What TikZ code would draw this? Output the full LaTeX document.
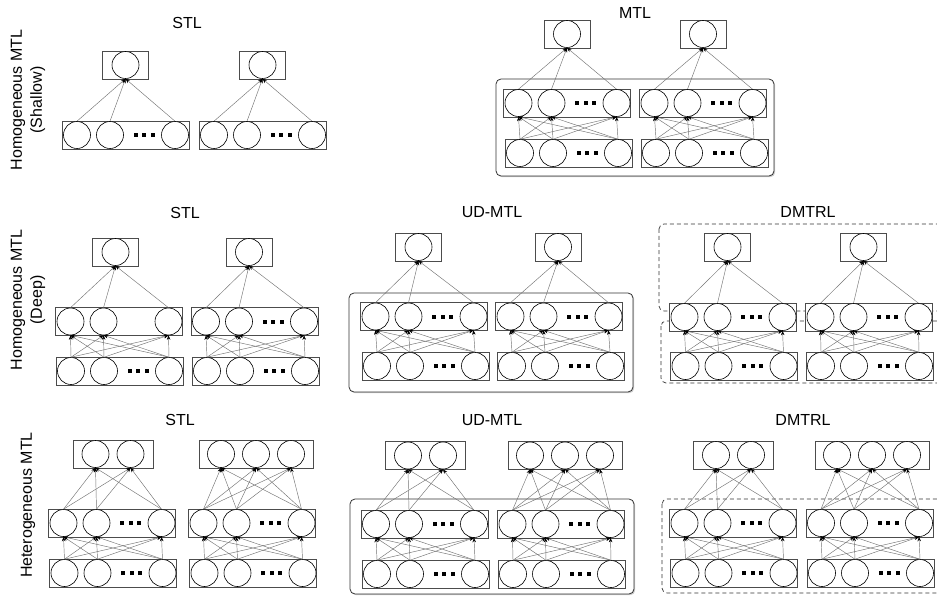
\documentclass[tikz,border=0pt]{standalone}
\usepackage{fontspec}
\setmainfont{Liberation Sans}
\usetikzlibrary{arrows.meta,calc,shadows}

% three square dots for the skipped units
\newcommand{\dotrow}{\rule{4pt}{4pt}\hspace{4.5pt}\rule{4pt}{4pt}\hspace{4.5pt}\rule{4pt}{4pt}}
% layer box with three units: name, x, y, dots (1/0)
\newcommand{\layer}[4]{%
  \node[lbox] (#1) at (#2,#3) {};
  \foreach \k/\dx in {1/-48.5,2/-15.5,3/49.5}
    \node[unit] (#1-\k) at ([xshift=\dx pt]#1.center) {};
  \ifnum#4=1 \node[dots] (#1-d) at ([xshift=18.5pt]#1.center) {\dotrow};\fi
}
% output box: name, x, y, number of units
\newcommand{\outbox}[4]{%
  \node[obox, minimum width={34*#4+12}] (#1) at (#2,#3) {};
  \foreach \k in {1,...,#4}
    \node[unit] (#1-\k) at ([xshift={(\k-(#4+1)/2)*35}]#1.center) {};
}
% full links: lower layer, upper layer, units above
\newcommand{\connect}[3]{%
  \foreach \i in {1,2,3} \foreach \j in {1,...,#3}
    \draw[link] (#1-\i.north) -- (#2-\j.south);
}

\begin{document}
\begin{tikzpicture}[
    x=1pt, y=-1pt,
    unit/.style={circle, draw=black, fill=white, minimum size=27pt, inner sep=0pt, line width=0.6pt},
    lbox/.style={rectangle, draw=black!70, fill=white, minimum width=127pt, minimum height=28pt, inner sep=0pt, line width=0.8pt},
    obox/.style={lbox, minimum width=46pt},
    dots/.style={inner sep=0pt},
    link/.style={draw=black!55, line width=0.45pt, -{Stealth[length=4.5pt, width=3.5pt, color=black]}},
    shared/.style={draw=black!80, fill=white, rounded corners=5pt, line width=0.8pt,
      drop shadow={shadow xshift=1.2pt, shadow yshift=-1.2pt, opacity=0.4}},
    split/.style={draw=black!80, dash pattern=on 4pt off 3pt, rounded corners=5pt, line width=0.7pt},
    title/.style={font=\fontsize{16}{20}\selectfont},
    rowlab/.style={title, rotate=90, align=center}
]
\useasboundingbox (0,0) rectangle (937,596);
\clip (0,0) rectangle (937,596);

% row labels and titles
\node[rowlab] (ra) at (28,100) {Homogeneous MTL\\(Shallow)};
\node[rowlab] (rb) at (28,300) {Homogeneous MTL\\(Deep)};
\node[rowlab] (rc) at (28,505) {Heterogeneous MTL};
\node[title] (ta1) at (187,23) {STL};
\node[title] (ta2) at (635,13) {MTL};
\node[title] (tb1) at (185,213) {STL};
\node[title] (tb2) at (492,212) {UD-MTL};
\node[title] (tb3) at (808,212) {DMTRL};
\node[title] (tc1) at (180,420) {STL};
\node[title] (tc2) at (492,420) {UD-MTL};
\node[title] (tc3) at (803,420) {DMTRL};

% shared and split frames
\path[shared] (496,79) rectangle (774,176);
\path[shared] (349,293) rectangle (633,392);
\path[shared] (350,499) rectangle (634,594);
\draw[split] (659,224) rectangle (960,311);
\draw[split] (661,321) rectangle (960,383);
\draw[split] (662,499) rectangle (960,593);

% shallow
\foreach \n/\x in {1/125.5, 2/262.5} {
  \outbox{ao\n}{\x}{65}{1}
  \layer{ai\n}{\x}{135}{1}
  \connect{ai\n}{ao\n}{1}
}
\foreach \n/\x in {3/567, 4/703} {
  \outbox{ao\n}{\x}{34}{1}
  \layer{am\n}{\x}{103}{1}
  \layer{ai\n}{\x+1.5}{153}{1}
  \connect{ai\n}{am\n}{3}
  \connect{am\n}{ao\n}{1}
}

% deep
\foreach \n/\ox/\oy/\mx/\my/\ix/\iy/\dt in {1/115.5/252/119/321.5/119.5/371/0,
    2/249/252/254.5/321.5/255.5/371/1, 3/418.5/247/424/316.5/425.5/366/1,
    4/558/247/559/316.5/560.5/366/1, 5/727.5/247/733/317/734/366/1,
    6/863.5/247/869/317/869.5/366/1} {
  \outbox{bo\n}{\ox}{\oy}{1}
  \layer{bm\n}{\mx}{\my}{\dt}
  \layer{bi\n}{\ix}{\iy}{1}
  \connect{bi\n}{bm\n}{3}
  \connect{bm\n}{bo\n}{1}
}

% heterogeneous
\foreach \n/\ox/\oy/\u/\mx/\my/\ix/\iy in {1/113/454/2/112/523/113/573,
    2/256/454/3/252/523/253/573, 3/425.5/455.5/2/424.5/524/425.5/574,
    4/565/455.5/3/561/524/561.5/574, 5/733.5/455/2/733/523/734/573,
    6/872/455/3/869.5/523/870.5/573} {
  \outbox{co\n}{\ox}{\oy}{\u}
  \layer{cm\n}{\mx}{\my}{1}
  \layer{ci\n}{\ix}{\iy}{1}
  \connect{ci\n}{cm\n}{3}
  \connect{cm\n}{co\n}{\u}
}
\end{tikzpicture}
\end{document}
